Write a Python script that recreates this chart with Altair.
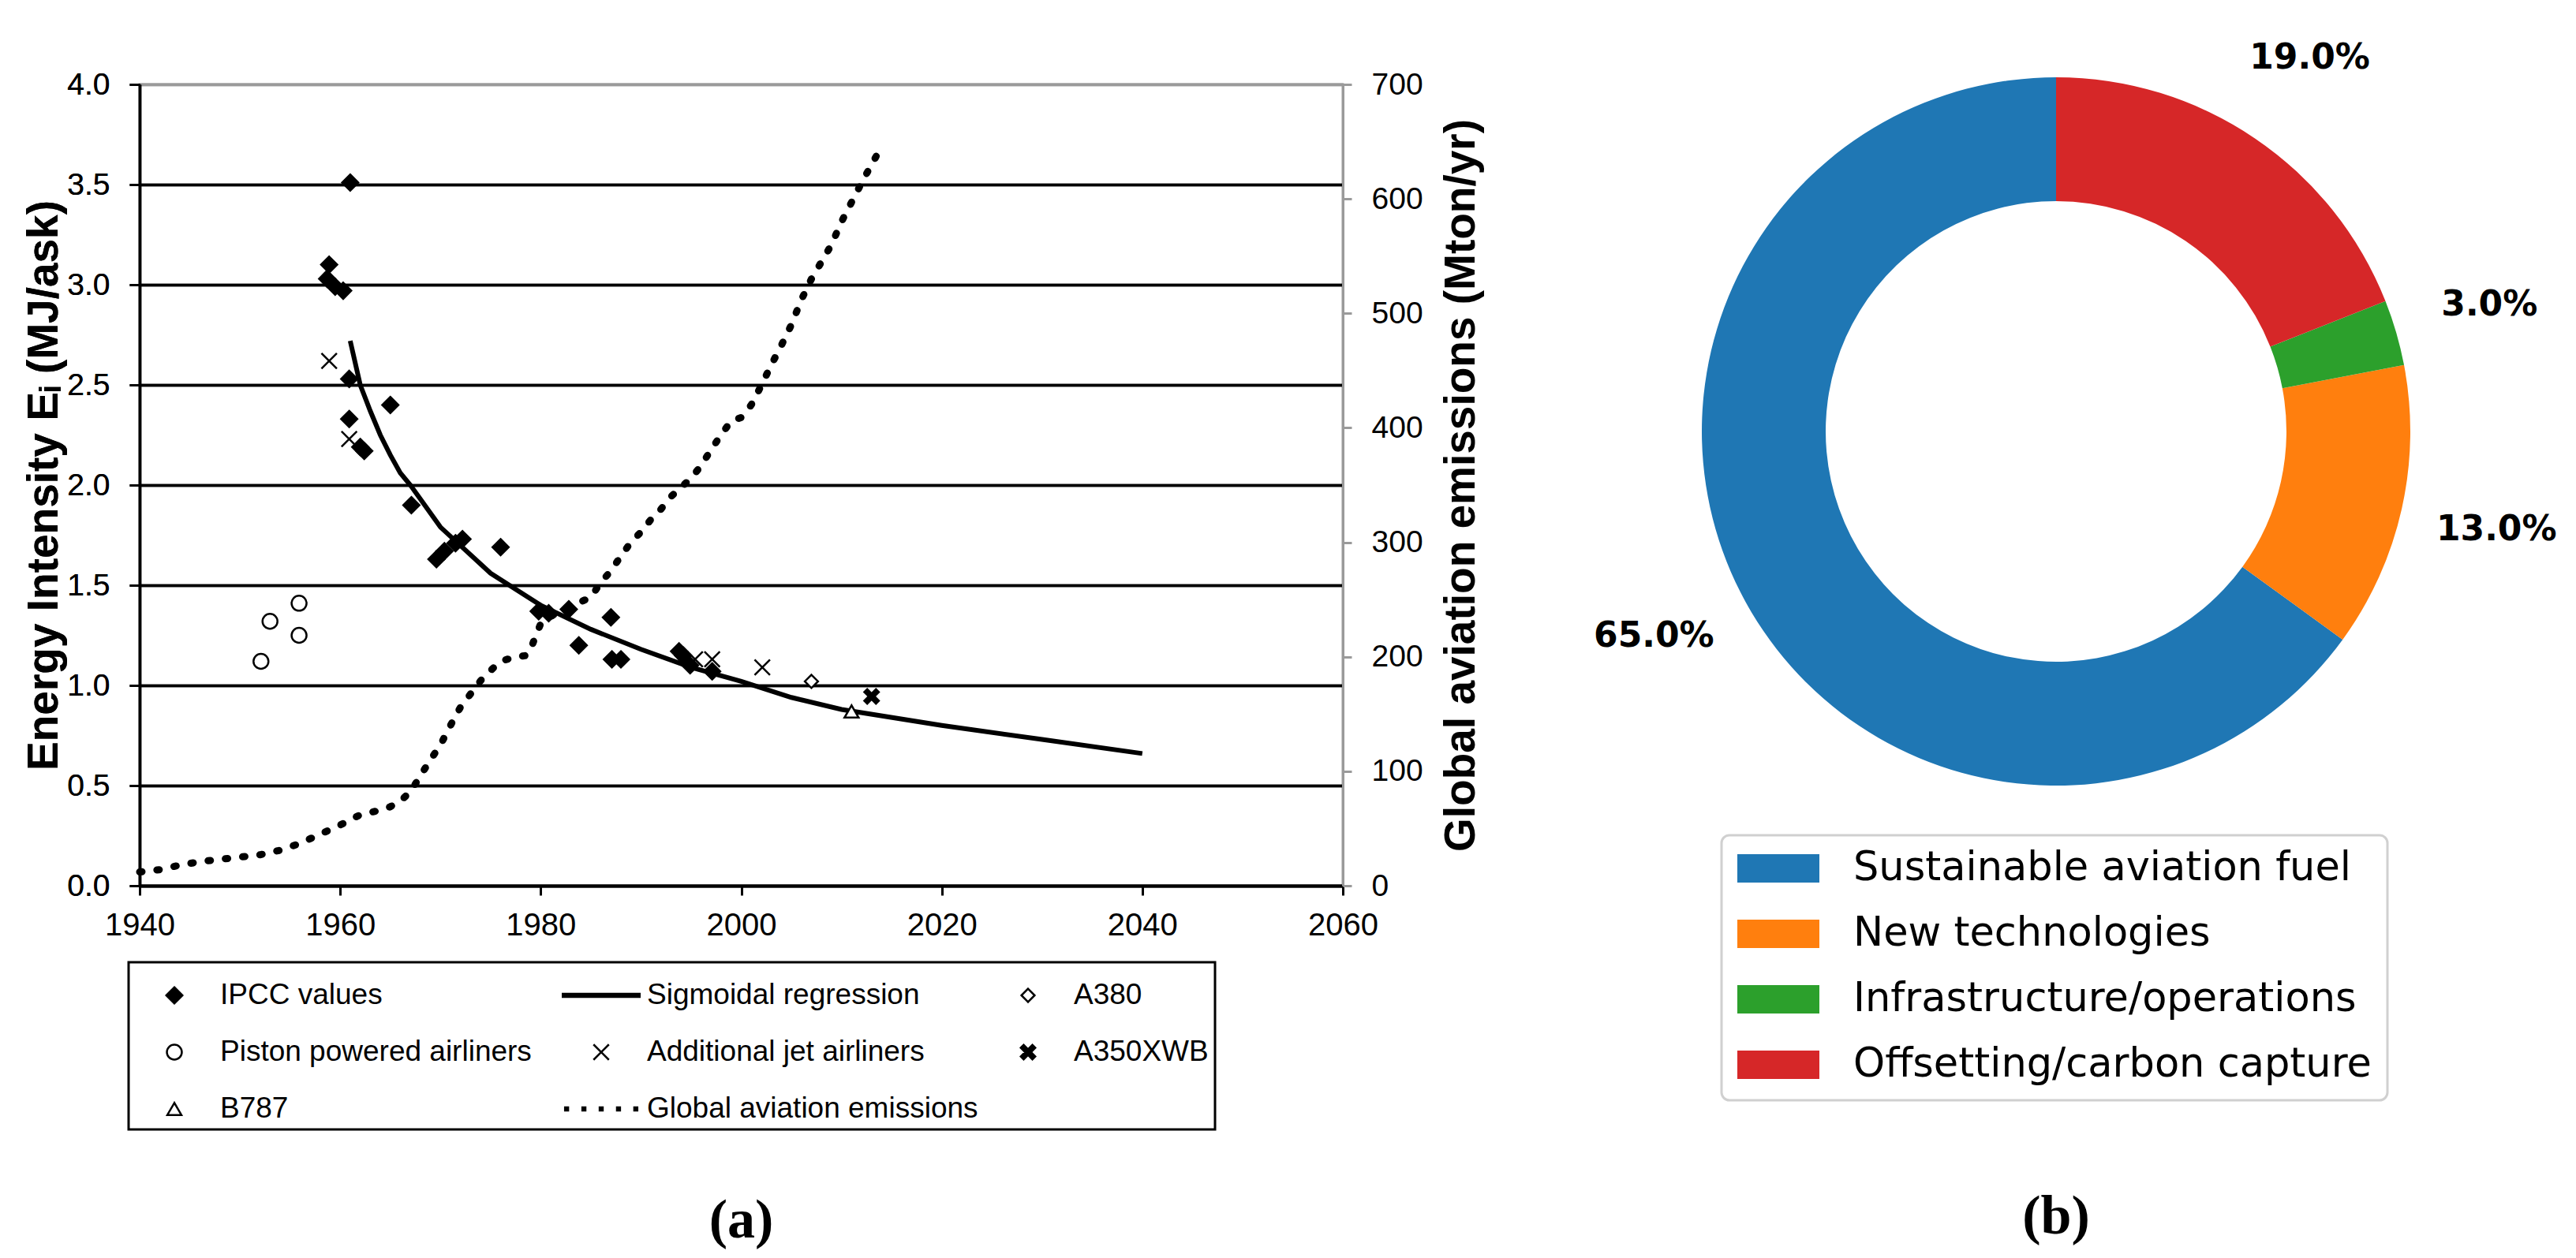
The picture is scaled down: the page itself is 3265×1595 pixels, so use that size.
import altair as alt
import pandas as pd

# ---------------- panel (a) data ----------------
ipcc_year = [1958.9, 1958.7, 1959.5, 1960.3, 1961.0, 1960.9, 1965.0, 1960.9, 1962.0, 1962.4,
             1967.1, 1969.6, 1970.4, 1971.5, 1972.2, 1976.0, 1979.8, 1980.8, 1982.8, 1983.8,
             1987.0, 1987.1, 1988.0, 1993.8, 1994.2, 1994.9, 1997.1]
ipcc_val = [3.10, 3.03, 2.99, 2.97, 3.51, 2.53, 2.40, 2.33, 2.19, 2.17,
            1.90, 1.63, 1.67, 1.71, 1.73, 1.69, 1.37, 1.36, 1.38, 1.20,
            1.34, 1.13, 1.13, 1.17, 1.15, 1.10, 1.07]
piston_year = [1952.1, 1953.0, 1955.9, 1955.9]
piston_val = [1.12, 1.32, 1.41, 1.25]
jet_year = [1958.9, 1960.9, 1995.4, 1997.1, 2002.1]
jet_val = [2.62, 2.23, 1.13, 1.13, 1.09]
a380_year = [2007.0]
a380_val = [1.02]
a350_year = [2013.0]
a350_val = [0.945]
b787_year = [2011.0]
b787_val = [0.87]

reg_year = [1961, 1962, 1963, 1964, 1965, 1966, 1967, 1970, 1975, 1980, 1985, 1990,
            1995, 2000, 2005, 2010, 2020, 2030, 2040]
reg_val = [2.72, 2.50, 2.37, 2.25, 2.15, 2.06, 2.00, 1.79, 1.56, 1.40, 1.28, 1.18,
           1.09, 1.02, 0.94, 0.88, 0.80, 0.73, 0.66]

em_year = [1940, 1942, 1944, 1946, 1948, 1950, 1952, 1954, 1956, 1958, 1960, 1962, 1963,
           1964, 1965, 1966, 1967, 1968, 1969, 1970, 1971, 1972, 1974, 1975, 1976, 1977.5,
           1978.5, 1979, 1980, 1982, 1984, 1985, 1986, 1987, 1988, 1989, 1990, 1991, 1992,
           1993, 1994, 1995, 1996, 1997, 1998, 1999, 2000, 2001, 2002, 2003, 2004, 2005,
           2006, 2007, 2008, 2009, 2010, 2011, 2012, 2013, 2013.7]
em_val = [12, 14, 18, 21, 23, 25, 27, 31, 37, 45, 53, 62, 64,
          66, 69, 74, 82, 96, 110, 123, 140, 156, 179, 188, 196, 200,
          201, 207, 229, 241, 248, 252, 265, 275, 288, 300, 309, 320, 329,
          340, 348, 356, 367, 381, 394, 406, 409, 420, 437, 455, 472, 490,
          512, 530, 545, 560, 580, 597, 614, 630, 641]

x_ticks = [1940, 1960, 1980, 2000, 2020, 2040, 2060]
y_ticks = [0, 0.5, 1.0, 1.5, 2.0, 2.5, 3.0, 3.5, 4.0]
y2_ticks = [0, 100, 200, 300, 400, 500, 600, 700]

# legend entries, listed column by column (3 columns x 3 rows)
legend_order = ["IPCC values", "Piston powered airliners", "B787",
                "Sigmoidal regression", "Additional jet airliners", "Global aviation emissions",
                "A380", "A350XWB"]

# ---------------- panel (b) data ----------------
cats = ["Sustainable aviation fuel", "New technologies",
        "Infrastructure/operations", "Offsetting/carbon capture"]
pcts = [65.0, 13.0, 3.0, 19.0]
cat_colors = ["#1f77b4", "#ff7f0e", "#2ca02c", "#d62728"]

# ---------------- build tables ----------------
groups = [("IPCC values", ipcc_year, ipcc_val),
          ("Piston powered airliners", piston_year, piston_val),
          ("Additional jet airliners", jet_year, jet_val),
          ("A380", a380_year, a380_val),
          ("A350XWB", a350_year, a350_val),
          ("B787", b787_year, b787_val)]
rows = []
for name, ys, vs in groups:
    for yv, vv in zip(ys, vs):
        rows.append({"year": yv, "value": vv, "series": name})
pts = pd.DataFrame(rows)
reg = pd.DataFrame({"year": reg_year, "value": reg_val})
em = pd.DataFrame({"year": em_year, "mton": em_val})

diamond = "M0,-1L1,0L0,1L-1,0Z"
line_sym = "M-1,-0.04H1V0.04H-1Z"
thin_x = "M-1,-1L1,1M-1,1L1,-1"
thick_x = "M-1,-0.6L-0.6,-1L0,-0.4L0.6,-1L1,-0.6L0.4,0L1,0.6L0.6,1L0,0.4L-0.6,1L-1,0.6L-0.4,0Z"
dots = "".join("M%.3f,-0.04h0.08v0.08h-0.08Z" % (c - 0.04) for c in [-0.9, -0.45, 0.0, 0.45, 0.9])

sym_style = {
    "IPCC values": (diamond, "black", 420),
    "Piston powered airliners": ("circle", "white", 360),
    "B787": ("triangle-up", "white", 320),
    "Sigmoidal regression": (line_sym, "black", 9500),
    "Additional jet airliners": (thin_x, "black", 380),
    "Global aviation emissions": (dots, "black", 9500),
    "A380": (diamond, "white", 280),
    "A350XWB": (thick_x, "black", 340),
}
shape_range = [sym_style[k][0] for k in legend_order]
fill_range = [sym_style[k][1] for k in legend_order]
size_range = [sym_style[k][2] for k in legend_order]
stroke_range = ["black" for k in legend_order]

FONT = "Liberation Sans"

leg_a = alt.Legend(orient="none", legendX=-14, legendY=1113, columns=3, gridAlign="all",
                   title=" ", titleFontSize=12, titlePadding=4, titleOrient="top",
                   labelFont=FONT, labelFontSize=37, labelLimit=800,
                   labelOffset=8, columnPadding=13, rowPadding=35, clipHeight=36,
                   padding=8, strokeColor="black",
                   symbolStrokeColor="black", symbolStrokeWidth=2.5, labelColor="black")

xenc = alt.X("year:Q", scale=alt.Scale(domain=[1940, 2060], nice=False, zero=False),
             axis=alt.Axis(values=x_ticks, format="d", title=None, grid=False, labelFlush=False,
                           labelFont=FONT, labelFontSize=40, labelColor="black",
                           labelPadding=18, tickSize=12, tickWidth=3, tickColor="black",
                           domainColor="black", domainWidth=4))
ytitle = "Energy Intensity E\u1d62 (MJ/ask)"
yscale = alt.Scale(domain=[0, 4], nice=False)
yaxis = alt.Axis(values=y_ticks, format=".1f", title=ytitle, grid=True,
                 gridColor=alt.condition("datum.value == 4", alt.value("#9a9a9a"), alt.value("black")),
                 gridWidth=3.5, labelFont=FONT, labelFontSize=39, labelColor="black",
                 labelPadding=25, tickSize=13, tickWidth=3, tickColor="black",
                 domainColor="black", domainWidth=3.5, titleFont=FONT, titleFontSize=55,
                 titleFontWeight="bold", titleColor="black", titlePadding=0)

points = alt.Chart(pts).mark_point(filled=True, strokeWidth=2.5, opacity=1).encode(
    x=xenc,
    y=alt.Y("value:Q", scale=yscale, axis=yaxis),
    shape=alt.Shape("series:N", scale=alt.Scale(domain=legend_order, range=shape_range), legend=leg_a),
    fill=alt.Fill("series:N", scale=alt.Scale(domain=legend_order, range=fill_range), legend=leg_a),
    stroke=alt.Stroke("series:N", scale=alt.Scale(domain=legend_order, range=stroke_range), legend=leg_a),
    size=alt.Size("series:N", scale=alt.Scale(type="ordinal", domain=legend_order, range=size_range),
                  legend=leg_a),
)

reg_line = alt.Chart(reg).mark_line(color="black", strokeWidth=6).encode(
    x=alt.X("year:Q"),
    y=alt.Y("value:Q", scale=yscale, axis=yaxis),
)

em_line = alt.Chart(em).mark_line(color="black", strokeWidth=9, strokeDash=[3, 19],
                                  strokeCap="round").encode(
    x=alt.X("year:Q"),
    y=alt.Y("mton:Q", scale=alt.Scale(domain=[0, 700], nice=False),
            axis=alt.Axis(values=y2_ticks, orient="right", grid=False,
                          title="Global aviation emissions (Mton/yr)",
                          labelFont=FONT, labelFontSize=39, labelColor="black",
                          labelPadding=25, tickSize=11, tickWidth=3, tickColor="#9a9a9a",
                          domainColor="#9a9a9a", domainWidth=3, titleFont=FONT,
                          titleFontSize=55, titleFontWeight="bold", titleColor="black",
                          titleAngle=270, titleBaseline="top", titlePadding=22)),
)

left = alt.layer(em_line, reg_line, points).resolve_scale(y="independent").properties(
    width=1525, height=1016,
    view=alt.ViewBackground(stroke="#9a9a9a", strokeWidth=3),
    title=alt.Title("(a)", orient="bottom", anchor="middle", font="Liberation Serif",
                    fontSize=70, fontWeight="bold", color="black", offset=80),
)

# ---------------- panel (b) ----------------
n = len(cats)
donut = pd.DataFrame({
    "cat": cats,
    "pct": pcts,
    "ord": [n - i for i in range(n)],
    "label": ["%.1f%%" % p for p in pcts],
})

rect_sym = "M-1,-0.346H1V0.346H-1Z"
leg_b = alt.Legend(orient="none", legendX=76, legendY=952, title=None,
                   symbolType=rect_sym, symbolSize=10816, symbolStrokeWidth=0,
                   labelFont="DejaVu Sans", labelFontSize=51, labelLimit=1200,
                   labelOffset=43, labelColor="black", padding=20, rowPadding=32,
                   clipHeight=44, strokeColor="#d0d0d0", cornerRadius=10)

base = alt.Chart(donut).encode(
    theta=alt.Theta("pct:Q", stack=True),
    order=alt.Order("ord:Q"),
)
arcs = base.mark_arc(innerRadius=292, outerRadius=449).encode(
    color=alt.Color("cat:N", scale=alt.Scale(domain=cats, range=cat_colors), legend=leg_b),
)
labels = base.mark_text(radius=572, font="DejaVu Sans", fontSize=44, fontWeight="bold",
                        color="black").encode(
    text="label:N",
    detail="cat:N",
)
right = alt.layer(arcs, labels).properties(
    width=1000, height=880,
    title=alt.Title("(b)", orient="bottom", anchor="middle", font="Liberation Serif",
                    fontSize=70, fontWeight="bold", color="black", offset=112),
)

chart = alt.hconcat(left, right, spacing=404, bounds="flush").resolve_legend(
    color="independent", shape="independent", fill="independent",
    size="independent", stroke="independent",
).properties(
    padding={"left": 19, "top": 43, "right": 5, "bottom": 5},
    background="white",
).configure_view(stroke="transparent").configure_legend(strokeWidth=3)

chart.save("out.html", embed_options={"renderer": "svg", "actions": False})
